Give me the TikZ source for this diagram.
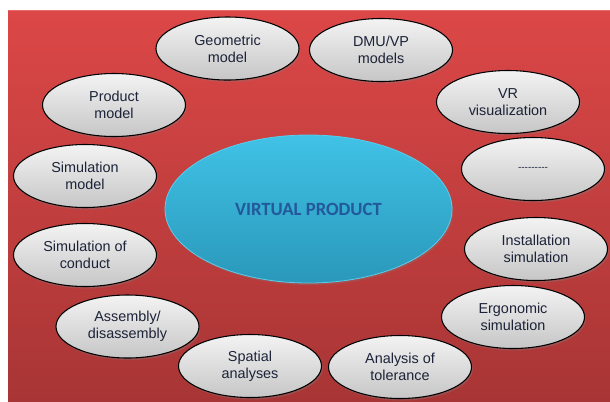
\documentclass[tikz,border=0pt]{standalone}
\usepackage{fontspec}
\setmainfont{Liberation Sans}
\newfontfamily\vpfont{Carlito}
\usetikzlibrary{shapes.geometric,shadows}
\definecolor{redtop}{HTML}{DC4747}
\definecolor{redbot}{HTML}{A83535}
\definecolor{redrim}{HTML}{E86A6A}
\definecolor{graytop}{HTML}{F3F3F3}
\definecolor{graybot}{HTML}{C6C6C6}
\definecolor{bluetop}{HTML}{40C2E6}
\definecolor{bluebot}{HTML}{2A98BA}
\definecolor{bluerim}{HTML}{5ACDEC}
\definecolor{txt}{HTML}{1C2338}
\definecolor{vptxt}{HTML}{23589B}
\begin{document}
\begin{tikzpicture}[x=0.75pt,y=-0.75pt,
  item/.style={ellipse, draw=black, line width=0.8pt,
    top color=graytop, bottom color=graybot,
    minimum width=107.25pt, minimum height=47.25pt, inner sep=0pt,
    align=center, text=txt, font=\fontsize{10.8}{12.8}\selectfont,
    drop shadow={shadow xshift=1pt, shadow yshift=-1.5pt, opacity=0.35}},
  core/.style={ellipse, draw=bluerim, line width=0.6pt,
    top color=bluetop, bottom color=bluebot,
    minimum width=215.25pt, minimum height=111pt, inner sep=0pt,
    text=vptxt, font=\vpfont\bfseries\fontsize{14}{16}\selectfont,
    drop shadow={shadow xshift=1pt, shadow yshift=-1.5pt, opacity=0.3}}]
\useasboundingbox (0,0) rectangle (610,401);
\fill[white] (0,0) rectangle (610,401);
\shade[top color=redtop, bottom color=redbot] (8,10) rectangle (610,401);
\draw[redrim, line width=1pt] (8,10.7) -- (610,10.7);

\node[core] (vp) at (308.5,209) {VIRTUAL PRODUCT};

\node[item] (geo)  at (227.5,48.5) {Geometric\\model};
\node[item] (dmu)  at (381,50)  {DMU/VP\\models};
\node[item] (prod) at (114,105) {Product\\model};
\node[item] (vr)   at (508,102) {VR\\visualization};
\node[item] (dots) at (533,169) {{\fontsize{7.5}{8}\selectfont -{}-{}-{}-{}-{}-{}-{}-{}-}};
\node[item] (simm) at (85,176)  {Simulation\\model};
\node[item] (simc) at (85,255)  {Simulation of\\conduct};
\node[item] (inst) at (536,249) {Installation\\simulation};
\node[item] (asm)  at (127.5,326.5) {Assembly/\\disassembly};
\node[item] (ergo) at (513,317) {Ergonomic\\simulation};
\node[item] (tol)  at (400,367) {Analysis of\\tolerance};
\node[item] (spa)  at (250,366) {Spatial\\analyses};
\end{tikzpicture}
\end{document}
